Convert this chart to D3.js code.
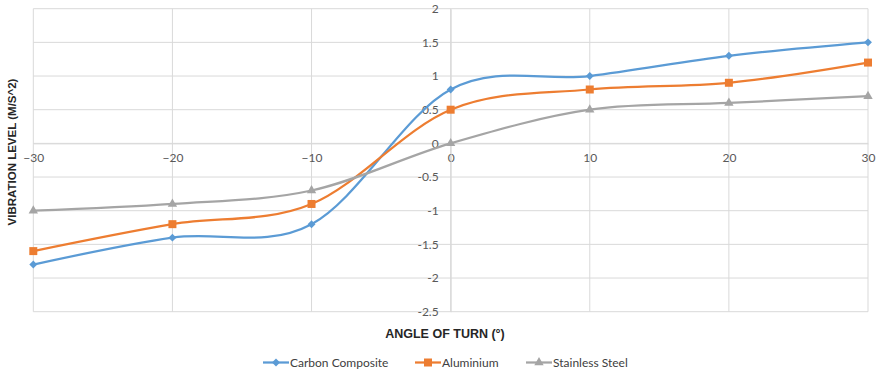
<!DOCTYPE html>
<html>
<head>
<meta charset="utf-8">
<script src="https://cdn.jsdelivr.net/npm/d3@7"></script>
<style>
  html, body { margin: 0; padding: 0; background: #fff; }
  svg { display: block; }
</style>
</head>
<body>
<svg id="chart" width="876" height="373"></svg>
<script>
// Angle of turn (degrees) and vibration level per material
const angles = [-30, -20, -10, 0, 10, 20, 30];
const carbonComposite = [-1.8, -1.4, -1.2, 0.8, 1.0, 1.3, 1.5];
const aluminium = [-1.6, -1.2, -0.9, 0.5, 0.8, 0.9, 1.2];
const stainlessSteel = [-1.0, -0.9, -0.7, 0.0, 0.5, 0.6, 0.7];
const seriesNames = ["Carbon Composite", "Aluminium", "Stainless Steel"];
const xTicks = [-30, -20, -10, 0, 10, 20, 30];
const yTicks = [-2.5, -2, -1.5, -1, -0.5, 0, 0.5, 1, 1.5, 2];

const svg = d3.select("#chart");
const x = d3.scaleLinear().domain([-30, 30]).range([33.3, 868]);
const y = d3.scaleLinear().domain([-2.5, 2]).range([311.7, 8.7]);

const series = [
  { name: seriesNames[0], values: carbonComposite, color: "#5B9BD5", symbol: d3.symbolDiamond2, size: 40 },
  { name: seriesNames[1], values: aluminium, color: "#ED7D31", symbol: d3.symbolSquare, size: 64 },
  { name: seriesNames[2], values: stainlessSteel, color: "#A5A5A5", symbol: d3.symbolTriangle, size: 38 }
];

// Gridlines
const grid = svg.append("g");
grid.selectAll("line.h").data(yTicks).join("line")
  .attr("x1", x(-30)).attr("x2", x(30))
  .attr("y1", d => y(d)).attr("y2", d => y(d))
  .attr("stroke", "#d9d9d9").attr("stroke-width", 1);
grid.selectAll("line.v").data(xTicks).join("line")
  .attr("y1", y(2)).attr("y2", y(-2.5))
  .attr("x1", d => x(d)).attr("x2", d => x(d))
  .attr("stroke", "#d9d9d9").attr("stroke-width", 1);

// Axes crossing at the origin
const xAxis = svg.append("g")
  .attr("transform", `translate(0,${y(0)})`)
  .call(d3.axisBottom(x).tickValues(xTicks).tickSize(0).tickPadding(10).tickFormat(d3.format("d")));
const yAxis = svg.append("g")
  .attr("transform", `translate(${x(0)},0)`)
  .call(d3.axisLeft(y).tickValues(yTicks).tickSize(0).tickPadding(12).tickFormat(d => String(d)));
[xAxis, yAxis].forEach(a => {
  a.select(".domain").attr("stroke", "#d9d9d9");
  a.selectAll("text")
    .attr("fill", "#595959")
    .style("font-family", "Lato, 'Open Sans', sans-serif")
    .style("font-size", "12px");
});

// Smooth lines
const line = d3.line()
  .x((d, i) => x(angles[i]))
  .y(d => y(d))
  .curve(d3.curveCardinal.tension(0));

series.forEach(s => {
  svg.append("path")
    .attr("d", line(s.values))
    .attr("fill", "none")
    .attr("stroke", s.color)
    .attr("stroke-width", 2.25)
    .attr("stroke-linejoin", "round");
  svg.append("g").selectAll("path").data(s.values).join("path")
    .attr("transform", (d, i) => `translate(${x(angles[i])},${y(d)})`)
    .attr("d", d3.symbol().type(s.symbol).size(s.size))
    .attr("fill", s.color);
});

// Axis titles
svg.append("text")
  .attr("x", 445).attr("y", 337.5)
  .attr("text-anchor", "middle")
  .attr("fill", "#262626")
  .style("font-family", "'Liberation Sans', Arial, sans-serif")
  .style("font-weight", "bold")
  .style("font-size", "12.5px")
  .text("ANGLE OF TURN (°)");

svg.append("text")
  .attr("transform", "translate(16,152) rotate(-90)")
  .attr("text-anchor", "middle")
  .attr("fill", "#262626")
  .style("font-family", "'Liberation Sans', Arial, sans-serif")
  .style("font-weight", "bold")
  .style("font-size", "11.5px")
  .text("VIBRATION LEVEL (M/S^2)");

// Legend
const legendX = [263, 415, 526];
const legend = svg.append("g");
series.forEach((s, i) => {
  const g = legend.append("g").attr("transform", `translate(${legendX[i]},362.5)`);
  g.append("line").attr("x1", 0).attr("x2", 26).attr("y1", 0).attr("y2", 0)
    .attr("stroke", s.color).attr("stroke-width", 2.25);
  g.append("path").attr("transform", "translate(13,0)")
    .attr("d", d3.symbol().type(s.symbol).size(s.size)).attr("fill", s.color);
  g.append("text").attr("x", 27).attr("y", 4.2)
    .attr("fill", "#404040")
    .style("font-family", "Lato, 'Open Sans', sans-serif")
    .style("font-size", "12px")
    .text(s.name);
});
</script>
</body>
</html>
